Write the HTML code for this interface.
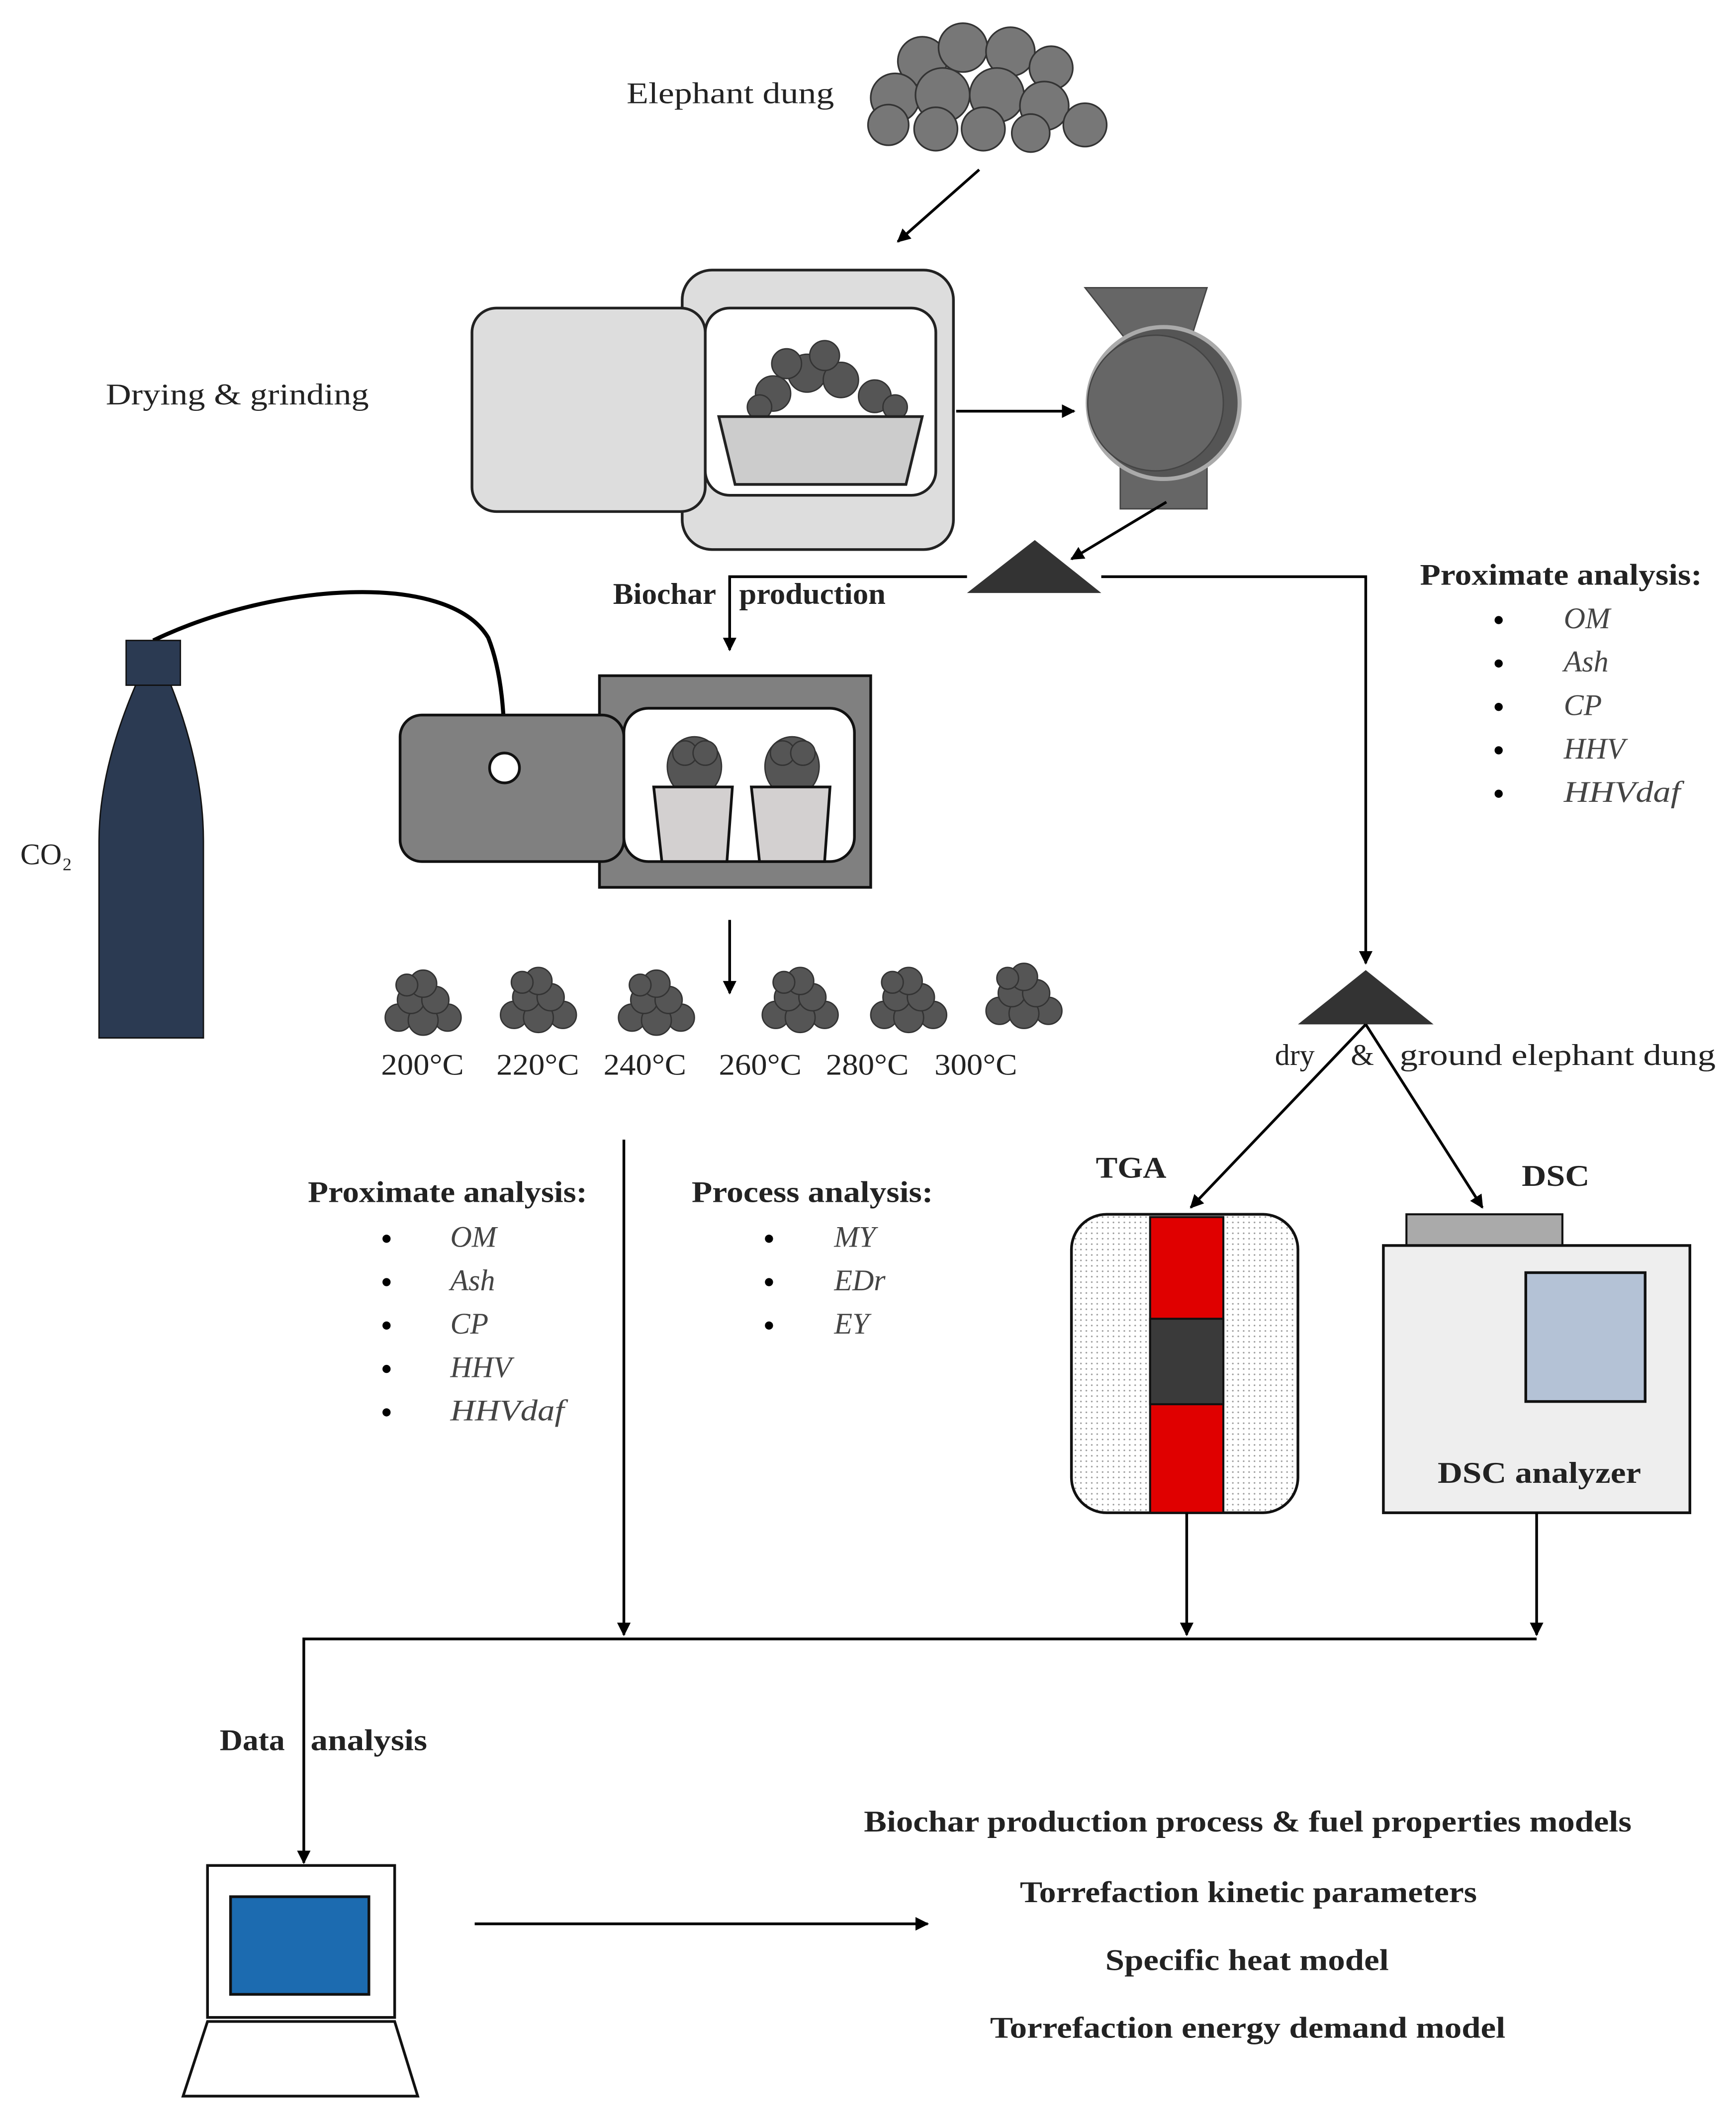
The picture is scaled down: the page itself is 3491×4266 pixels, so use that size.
<!DOCTYPE html>
<html><head><meta charset="utf-8"><style>
html,body{margin:0;padding:0;background:#fff;}
svg{display:block;}
text{font-family:"Liberation Serif",serif;font-size:22px;fill:#222;}
.b{font-weight:bold;}
.i{font-style:italic;fill:#444;}
</style></head><body>
<svg width="3491" height="4266" viewBox="0 0 1280 1564" xmlns="http://www.w3.org/2000/svg">
<defs>
<marker id="ar" markerWidth="10" markerHeight="10" refX="9" refY="5" orient="auto" markerUnits="userSpaceOnUse">
<path d="M0,0 L10,5 L0,10 z" fill="#000"/></marker>
<pattern id="dots" width="4" height="4" patternUnits="userSpaceOnUse"><rect width="4" height="4" fill="#fff"/><circle cx="1" cy="1" r="0.6" fill="#999"/></pattern>
<g id="pile">
<circle cx="-18" cy="10" r="10" fill="#555" stroke="#333"/>
<circle cx="18" cy="10" r="10" fill="#555" stroke="#333"/>
<circle cx="0" cy="12" r="11" fill="#555" stroke="#333"/>
<circle cx="-9" cy="-3" r="10" fill="#555" stroke="#333"/>
<circle cx="9" cy="-3" r="10" fill="#555" stroke="#333"/>
<circle cx="0" cy="-15" r="10" fill="#555" stroke="#333"/>
<circle cx="-12" cy="-14" r="8" fill="#555" stroke="#333"/>
</g>
</defs>

<!-- Elephant dung -->
<text x="462" y="76" textLength="153" lengthAdjust="spacingAndGlyphs">Elephant dung</text>
<g fill="#777" stroke="#333" stroke-width="1.2">
<circle cx="680" cy="45" r="18"/><circle cx="710" cy="35" r="18"/><circle cx="745" cy="38" r="18"/><circle cx="775" cy="50" r="16"/>
<circle cx="660" cy="72" r="18"/><circle cx="695" cy="70" r="20"/><circle cx="735" cy="70" r="20"/><circle cx="770" cy="78" r="18"/>
<circle cx="800" cy="92" r="16"/><circle cx="655" cy="92" r="15"/><circle cx="690" cy="95" r="16"/><circle cx="725" cy="95" r="16"/><circle cx="760" cy="98" r="14"/>
</g>
<line x1="722" y1="125" x2="662" y2="178" stroke="#000" stroke-width="2" marker-end="url(#ar)"/>

<!-- Drying oven -->
<text x="78" y="298" textLength="194" lengthAdjust="spacingAndGlyphs">Drying &amp; grinding</text>
<rect x="503" y="199" width="200" height="206" rx="22" fill="#ddd" stroke="#222" stroke-width="2"/>
<rect x="348" y="227" width="172" height="150" rx="18" fill="#ddd" stroke="#222" stroke-width="2"/>
<rect x="520" y="227" width="170" height="138" rx="18" fill="#fff" stroke="#222" stroke-width="2"/>
<g fill="#555" stroke="#333">
<circle cx="570" cy="290" r="13"/><circle cx="595" cy="275" r="14"/><circle cx="620" cy="280" r="13"/><circle cx="645" cy="292" r="12"/>
<circle cx="580" cy="268" r="11"/><circle cx="608" cy="262" r="11"/><circle cx="560" cy="300" r="9"/><circle cx="660" cy="300" r="9"/>
</g>
<polygon points="530,307 680,307 668,357 542,357" fill="#ccc" stroke="#222" stroke-width="2"/>
<line x1="705" y1="303" x2="792" y2="303" stroke="#000" stroke-width="2" marker-end="url(#ar)"/>

<!-- Grinder -->
<polygon points="800,212 890,212 878,250 872,262 842,262 830,250" fill="#666" stroke="#444"/>
<rect x="826" y="325" width="64" height="50" fill="#666" stroke="#444"/>
<circle cx="858" cy="297" r="56" fill="#555" stroke="#aaa" stroke-width="3"/>
<circle cx="852" cy="297" r="50" fill="#666" stroke="#444"/>
<line x1="860" y1="370" x2="790" y2="412" stroke="#000" stroke-width="2" marker-end="url(#ar)"/>

<!-- triangle 1 and flow -->
<polygon points="713,437 763,398 812,437" fill="#333"/>
<polyline points="812,425 1007,425 1007,710" fill="none" stroke="#000" stroke-width="2" marker-end="url(#ar)"/>
<polyline points="713,425 538,425 538,479" fill="none" stroke="#000" stroke-width="2" marker-end="url(#ar)"/>
<text x="452" y="445" class="b" textLength="76" lengthAdjust="spacingAndGlyphs">Biochar</text><text x="545" y="445" class="b" textLength="108" lengthAdjust="spacingAndGlyphs">production</text>

<!-- Right proximate analysis -->
<text x="1047" y="431" class="b" textLength="208" lengthAdjust="spacingAndGlyphs">Proximate analysis:</text>
<g>
<circle cx="1105" cy="457" r="3" fill="#000"/><text x="1153" y="463" class="i">OM</text>
<circle cx="1105" cy="489" r="3" fill="#000"/><text x="1153" y="495" class="i">Ash</text>
<circle cx="1105" cy="521" r="3" fill="#000"/><text x="1153" y="527" class="i">CP</text>
<circle cx="1105" cy="553" r="3" fill="#000"/><text x="1153" y="559" class="i">HHV</text>
<circle cx="1105" cy="585" r="3" fill="#000"/><text x="1153" y="591" class="i" textLength="86" lengthAdjust="spacingAndGlyphs">HHVdaf</text>
</g>

<!-- CO2 cylinder -->
<path d="M113,472 C200,430 330,420 360,470 C372,500 372,540 372,560" fill="none" stroke="#000" stroke-width="3"/>
<path d="M100,505 L126,505 C140,540 150,580 150,620 L150,765 L73,765 L73,620 C73,580 85,540 100,505 z" fill="#2b3a52" stroke="#111"/>
<rect x="93" y="472" width="40" height="33" fill="#2b3a52" stroke="#111"/>
<text x="15" y="637">CO₂</text>

<!-- Furnace -->
<rect x="442" y="498" width="200" height="156" fill="#808080" stroke="#111" stroke-width="2"/>
<rect x="295" y="527" width="165" height="108" rx="16" fill="#808080" stroke="#111" stroke-width="2"/>
<rect x="460" y="522" width="170" height="113" rx="18" fill="#fff" stroke="#111" stroke-width="2"/>
<circle cx="372" cy="566" r="11" fill="#fff" stroke="#111" stroke-width="2"/>
<g fill="#555" stroke="#333">
<ellipse cx="512" cy="565" rx="20" ry="22"/><circle cx="505" cy="555" r="9"/><circle cx="520" cy="555" r="9"/>
<ellipse cx="584" cy="565" rx="20" ry="22"/><circle cx="577" cy="555" r="9"/><circle cx="592" cy="555" r="9"/>
</g>
<polygon points="482,580 540,580 536,635 488,635" fill="#d3d0d0" stroke="#111" stroke-width="2"/>
<polygon points="554,580 612,580 608,635 560,635" fill="#d3d0d0" stroke="#111" stroke-width="2"/>
<line x1="538" y1="678" x2="538" y2="732" stroke="#000" stroke-width="2" marker-end="url(#ar)"/>

<!-- Piles -->
<use href="#pile" x="312" y="740"/><use href="#pile" x="397" y="738"/><use href="#pile" x="484" y="740"/>
<use href="#pile" x="590" y="738"/><use href="#pile" x="670" y="738"/><use href="#pile" x="755" y="735"/>
<text x="281" y="792" textLength="61" lengthAdjust="spacingAndGlyphs">200°C</text><text x="366" y="792" textLength="61" lengthAdjust="spacingAndGlyphs">220°C</text><text x="445" y="792" textLength="61" lengthAdjust="spacingAndGlyphs">240°C</text>
<text x="530" y="792" textLength="61" lengthAdjust="spacingAndGlyphs">260°C</text><text x="609" y="792" textLength="61" lengthAdjust="spacingAndGlyphs">280°C</text><text x="689" y="792" textLength="61" lengthAdjust="spacingAndGlyphs">300°C</text>

<!-- Left analysis -->
<line x1="460" y1="840" x2="460" y2="1205" stroke="#000" stroke-width="2" marker-end="url(#ar)"/>
<text x="227" y="886" class="b" textLength="206" lengthAdjust="spacingAndGlyphs">Proximate analysis:</text>
<circle cx="285" cy="913" r="3" fill="#000"/><text x="332" y="919" class="i">OM</text>
<circle cx="285" cy="945" r="3" fill="#000"/><text x="332" y="951" class="i">Ash</text>
<circle cx="285" cy="977" r="3" fill="#000"/><text x="332" y="983" class="i">CP</text>
<circle cx="285" cy="1009" r="3" fill="#000"/><text x="332" y="1015" class="i">HHV</text>
<circle cx="285" cy="1041" r="3" fill="#000"/><text x="332" y="1047" class="i" textLength="84" lengthAdjust="spacingAndGlyphs">HHVdaf</text>
<text x="510" y="886" class="b" textLength="178" lengthAdjust="spacingAndGlyphs">Process analysis:</text>
<circle cx="567" cy="913" r="3" fill="#000"/><text x="615" y="919" class="i">MY</text>
<circle cx="567" cy="945" r="3" fill="#000"/><text x="615" y="951" class="i">EDr</text>
<circle cx="567" cy="977" r="3" fill="#000"/><text x="615" y="983" class="i">EY</text>

<!-- Triangle 2 -->
<polygon points="957,755 1007,715 1057,755" fill="#333"/>
<text x="940" y="785">dry</text><text x="996" y="785">&amp;</text><text x="1032" y="785" textLength="233" lengthAdjust="spacingAndGlyphs">ground elephant dung</text>
<line x1="1007" y1="755" x2="878" y2="890" stroke="#000" stroke-width="2" marker-end="url(#ar)"/>
<line x1="1007" y1="755" x2="1093" y2="890" stroke="#000" stroke-width="2" marker-end="url(#ar)"/>

<!-- TGA -->
<text x="808" y="868" class="b" textLength="52" lengthAdjust="spacingAndGlyphs">TGA</text>
<rect x="790" y="895" width="167" height="220" rx="26" fill="url(#dots)" stroke="#111" stroke-width="2"/>
<rect x="848" y="897" width="54" height="218" fill="#e00000" stroke="#111" stroke-width="1.5"/>
<rect x="848" y="972" width="54" height="63" fill="#3a3a3a" stroke="#111" stroke-width="1.5"/>

<!-- DSC -->
<text x="1122" y="874" class="b" textLength="50" lengthAdjust="spacingAndGlyphs">DSC</text>
<rect x="1037" y="895" width="115" height="23" fill="#aaa" stroke="#111" stroke-width="1.5"/>
<rect x="1020" y="918" width="226" height="197" fill="#eee" stroke="#111" stroke-width="2"/>
<rect x="1125" y="938" width="88" height="95" fill="#b4c2d6" stroke="#111" stroke-width="2"/>
<text x="1060" y="1093" class="b" textLength="150" lengthAdjust="spacingAndGlyphs">DSC analyzer</text>

<line x1="875" y1="1115" x2="875" y2="1205" stroke="#000" stroke-width="2" marker-end="url(#ar)"/>
<line x1="1133" y1="1115" x2="1133" y2="1205" stroke="#000" stroke-width="2" marker-end="url(#ar)"/>
<polyline points="1133,1208 224,1208 224,1373" fill="none" stroke="#000" stroke-width="2" marker-end="url(#ar)"/>
<text x="162" y="1290" class="b" textLength="48" lengthAdjust="spacingAndGlyphs">Data</text><text x="229" y="1290" class="b" textLength="86" lengthAdjust="spacingAndGlyphs">analysis</text>

<!-- Computer -->
<rect x="153" y="1375" width="138" height="112" fill="#fff" stroke="#111" stroke-width="2"/>
<rect x="170" y="1398" width="102" height="72" fill="#1c6bb0" stroke="#111" stroke-width="2"/>
<polygon points="153,1490 291,1490 308,1545 135,1545" fill="#fff" stroke="#111" stroke-width="2"/>
<line x1="350" y1="1418" x2="684" y2="1418" stroke="#000" stroke-width="2" marker-end="url(#ar)"/>

<text x="637" y="1350" class="b" textLength="566" lengthAdjust="spacingAndGlyphs">Biochar production process &amp; fuel properties models</text>
<text x="752" y="1402" class="b" textLength="337" lengthAdjust="spacingAndGlyphs">Torrefaction kinetic parameters</text>
<text x="815" y="1452" class="b" textLength="209" lengthAdjust="spacingAndGlyphs">Specific heat model</text>
<text x="730" y="1502" class="b" textLength="380" lengthAdjust="spacingAndGlyphs">Torrefaction energy demand model</text>
</svg>
</body></html>
